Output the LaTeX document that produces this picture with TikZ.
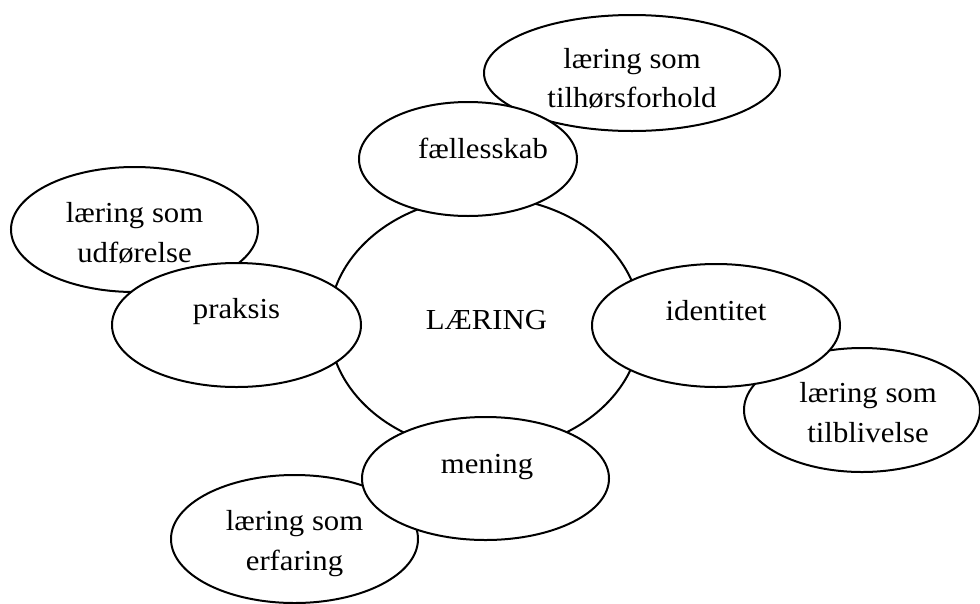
\documentclass[tikz,border=0pt]{standalone}
\usepackage{fontspec}
\setmainfont[FakeStretch=1.06]{Liberation Serif}
\usetikzlibrary{shapes.geometric}
\tikzset{
  oval/.style={ellipse, draw=black, line width=2pt, fill=white, inner sep=0pt},
  lbl/.style={anchor=base, inner sep=0pt, font=\fontsize{29}{40}\selectfont}
}
\begin{document}
\begin{tikzpicture}[x=1pt,y=-1pt]
\useasboundingbox (0,0) rectangle (980,603);
\clip (0,0) rectangle (980,603);
\fill[white] (0,0) rectangle (980,603);
% central circle
\node[oval, minimum width=312pt, minimum height=254pt] (laering) at (485,324) {};
% outer ellipses (behind)
\node[oval, minimum width=296pt, minimum height=116pt] (tilh) at (632,73) {};
\node[oval, minimum width=247pt, minimum height=125pt] (udf) at (134.5,229.5) {};
\node[oval, minimum width=236pt, minimum height=124pt] (tilb) at (862,410) {};
\node[oval, minimum width=247pt, minimum height=128pt] (erf) at (294.5,539) {};
% inner ellipses (front)
\node[oval, minimum width=218pt, minimum height=114pt] (faell) at (468,159) {};
\node[oval, minimum width=249pt, minimum height=124pt] (praks) at (236.5,325) {};
\node[oval, minimum width=248pt, minimum height=123pt] (ident) at (716,325.5) {};
\node[oval, minimum width=247pt, minimum height=123pt] (men) at (485.5,478.5) {};
% texts
\node[lbl] (tLaering) at (486.5,329) {LÆRING};
\node[lbl] (tTilh1) at (632,68) {læring som};
\node[lbl] (tTilh2) at (632,107) {tilhørsforhold};
\node[lbl] (tFaell) at (483,158) {fællesskab};
\node[lbl] (tUdf1) at (134.5,222) {læring som};
\node[lbl] (tUdf2) at (134.5,262) {udførelse};
\node[lbl] (tPraks) at (236.5,318) {praksis};
\node[lbl] (tIdent) at (716,320) {identitet};
\node[lbl] (tTilb1) at (868,402) {læring som};
\node[lbl] (tTilb2) at (868,442) {tilblivelse};
\node[lbl] (tMen) at (487,473) {mening};
\node[lbl] (tErf1) at (294.5,530) {læring som};
\node[lbl] (tErf2) at (294.5,570) {erfaring};
\end{tikzpicture}
\end{document}
